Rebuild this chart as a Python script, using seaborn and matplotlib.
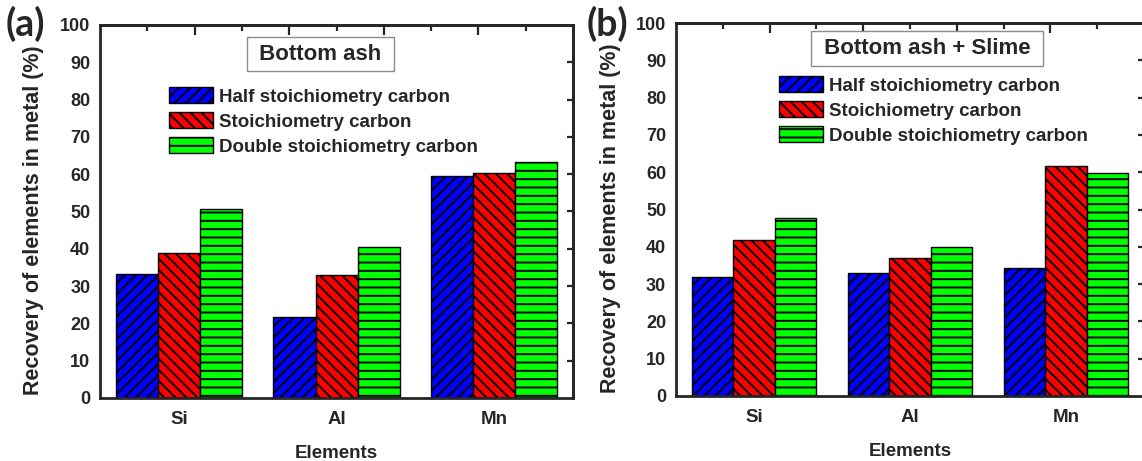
import pandas as pd
import matplotlib.pyplot as plt
import matplotlib.patches as mpatches
import seaborn as sns

elements = ['Si', 'Al', 'Mn']
carbon_levels = ['Half stoichiometry carbon', 'Stoichiometry carbon', 'Double stoichiometry carbon']

# (a) bottom ash
ash_half = [33.2, 21.8, 59.5]
ash_stoich = [38.9, 33.1, 60.3]
ash_double = [50.7, 40.4, 63.2]

# (b) bottom ash + slime
slime_half = [32.0, 33.1, 34.2]
slime_stoich = [41.9, 37.0, 61.6]
slime_double = [47.8, 40.0, 59.9]

colors = ['#0000ff', '#ff0000', '#00ff00']
hatches = ['///', '\\\\\\', '--']

sns.set_style('white')
plt.rcParams['font.family'] = 'Liberation Sans'
plt.rcParams['hatch.linewidth'] = 1.4
plt.rcParams['axes.linewidth'] = 2.0


def long_form(half, stoich, double):
    rows = []
    for lvl, vals in zip(carbon_levels, [half, stoich, double]):
        for el, v in zip(elements, vals):
            rows.append({'Element': el, 'Carbon': lvl, 'Recovery': v})
    return pd.DataFrame(rows)


def draw_panel(ax, df, title, title_xy, legend_xy):
    sns.barplot(data=df, x='Element', y='Recovery', hue='Carbon', order=elements,
                hue_order=carbon_levels, palette=colors, saturation=1,
                edgecolor='black', linewidth=1, errorbar=None, legend=False, ax=ax)
    for cont, h in zip(ax.containers, hatches):
        for bar in cont:
            bar.set_hatch(h)

    ax.set_xlim(-0.5, 2.5)
    ax.set_ylim(0, 100)
    ax.set_yticks(range(0, 101, 10))
    ax.tick_params(axis='y', direction='out', length=5.5, width=1.6, pad=1.5, labelsize=13)
    ax.tick_params(axis='x', direction='out', length=5.5, width=1.6, pad=4, labelsize=13.5)
    for lab in ax.get_xticklabels() + ax.get_yticklabels():
        lab.set_fontweight('bold')
    for sp in ax.spines.values():
        sp.set_visible(True)
        sp.set_linewidth(2.0)

    ax.set_xlabel('Elements', fontsize=13.5, fontweight='bold', labelpad=12)
    ax.set_ylabel('Recovery of elements in metal (%)', fontsize=15.5, fontweight='bold')
    ax.yaxis.set_label_coords(-0.118, 0.477)

    # mirrored ticks on top and right
    top = ax.secondary_xaxis('top', functions=(lambda x: (x + 0.5) / 3 * 10,
                                               lambda t: t * 0.3 - 0.5))
    top.set_xticks([2, 4, 6, 8])
    top.set_xticks([1, 3, 5, 7, 9], minor=True)
    top.tick_params(which='major', direction='in', length=7, width=1.6, labeltop=False)
    top.tick_params(which='minor', direction='in', length=4.5, width=1.6)
    top.spines['top'].set_linewidth(2.0)
    right = ax.secondary_yaxis('right')
    right.set_yticks(range(10, 100, 10))
    right.tick_params(direction='in', length=4.5, width=1.6, labelright=False)
    right.spines['right'].set_linewidth(2.0)

    ax.text(title_xy[0], title_xy[1], ' ' + title + ' ', transform=ax.transAxes,
            ha='center', va='center', fontsize=16, fontweight='bold',
            bbox=dict(boxstyle='square,pad=0.3', facecolor='white', edgecolor='#8c8c8c', linewidth=1))

    handles = [mpatches.Patch(facecolor=c, edgecolor='black', hatch=h, linewidth=1)
               for c, h in zip(colors, hatches)]
    ax.legend(handles, carbon_levels, loc='upper left', bbox_to_anchor=legend_xy,
              frameon=False, borderpad=0, borderaxespad=0, handlelength=2.35,
              handleheight=0.9, handletextpad=0.32, labelspacing=0.36,
              prop={'family': 'Liberation Sans', 'weight': 'bold', 'size': 13.5})


fig = plt.figure(figsize=(11.42, 4.61), dpi=100)
ax_a = fig.add_axes([0.0876, 0.1367, 0.4142, 0.8091])
ax_b = fig.add_axes([0.5919, 0.1410, 0.4098, 0.8091])

draw_panel(ax_a, long_form(ash_half, ash_stoich, ash_double), 'Bottom ash',
           (0.466, 0.922), (0.146, 0.833))
draw_panel(ax_b, long_form(slime_half, slime_stoich, slime_double), 'Bottom ash + Slime',
           (0.537, 0.932), (0.220, 0.857))

fig.text(6 / 1142, 1 - 6 / 461, '(a)', ha='left', va='top', fontsize=27,
         fontweight='bold', family='Lato')
fig.text(587 / 1142, 1 - 6 / 461, '(b)', ha='left', va='top', fontsize=27,
         fontweight='bold', family='Lato')

fig.savefig('out.png', dpi=100, facecolor='white')
